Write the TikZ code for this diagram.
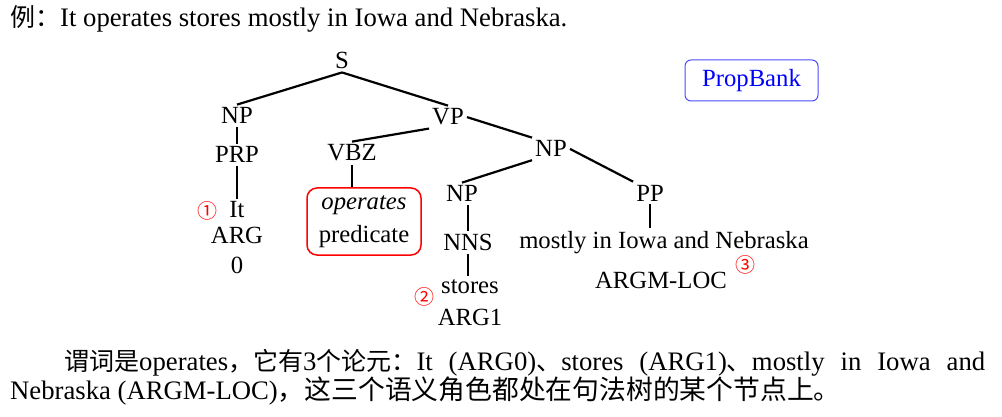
\documentclass[tikz,border=0pt]{standalone}
\usepackage{fontspec}
\setmainfont{Liberation Serif}
\newfontfamily\cjk{Noto Sans CJK SC}
\begin{document}
\begin{tikzpicture}[x=1pt,y=-1pt,
  lbl/.style={font=\fontsize{24.7}{28}\selectfont, inner sep=3pt, anchor=base},
  plain/.style={font=\fontsize{24.7}{28}\selectfont, inner sep=0pt, anchor=base},
  big/.style={font=\fontsize{26.7}{30}\selectfont, inner sep=0pt, anchor=base west},
  edge/.style={line width=2.2pt},
  circ/.style={text=red, font=\cjk\fontsize{20}{20}\selectfont, inner sep=0pt}]
\useasboundingbox (0,0) rectangle (1002,417);
% title
\node[big] (title) at (10,27) {{\cjk\fontsize{25}{30}\selectfont 例：}It operates stores mostly in Iowa and Nebraska.};
% tree
\node[lbl] (S) at (342,69) {S};
\node[lbl] (NPa) at (237,124) {NP};
\node[lbl] (PRP) at (237,163) {PRP};
\node[lbl] (It) at (237,218) {It};
\node[plain] (ARG) at (237,243) {ARG};
\node[plain] (zero) at (237,273) {0};
\node[circ] (c1) at (207,211) {①};
\node[lbl] (VP) at (448,125) {VP};
\node[lbl] (VBZ) at (352,161) {VBZ};
\node[draw=red, rounded corners=10pt, line width=1.5pt, minimum width=114pt, minimum height=67pt,
      align=center, inner sep=0pt, font=\fontsize{24.7}{33}\selectfont] (box) at (364,221.5) {\textit{operates}\\predicate};
\node[lbl] (NPb) at (551,157) {NP};
\node[lbl] (NPc) at (462,202) {NP};
\node[lbl] (NNS) at (468,251) {NNS};
\node[lbl] (stores) at (470,293) {stores};
\node[plain] (ARG1) at (470,325) {ARG1};
\node[circ] (c2) at (424,297) {②};
\node[lbl] (PP) at (650,201) {PP};
\node[lbl] (mostly) at (664,248) {mostly in Iowa and Nebraska};
\node[plain] (loc) at (661,288) {ARGM-LOC};
\node[circ] (c3) at (745,265) {③};
\node[draw=blue!70, rounded corners=6pt, text=blue, minimum width=133pt, minimum height=41pt,
      line width=1pt, inner sep=0pt, font=\fontsize{24.7}{28}\selectfont] (pb) at (751.5,80.5) {PropBank};
% edges
\draw[edge] (S.south) -- (NPa.north);
\draw[edge] (S.south) -- (VP.north);
\draw[edge] (NPa) -- (PRP);
\draw[edge] (PRP) -- (It);
\draw[edge] (VP.south west) -- (VBZ.north);
\draw[edge] (VP.east) -- (NPb.north west);
\draw[edge] (VBZ.south) -- (VBZ.south |- box.north);
\draw[edge] (NPb.south west) -- (NPc.north);
\draw[edge] (NPb.east) -- (PP.north west);
\draw[edge] (NPc.south -| NNS) -- (NNS);
\draw[edge] (NNS.south) -- (NNS.south |- stores.north);
\draw[edge] (PP.south) -- (PP.south |- mostly.north);
% bottom text
\node[big] (l1) at (64,370) {\makebox[921pt][s]{{\cjk\fontsize{25}{30}\selectfont 谓词是}operates{\cjk\fontsize{25}{30}\selectfont ，它有}3{\cjk\fontsize{25}{30}\selectfont 个论元：}It (ARG0){\cjk\fontsize{25}{30}\selectfont 、}stores (ARG1){\cjk\fontsize{25}{30}\selectfont 、}mostly in Iowa and}};
\node[big] (l2) at (10,399) {Nebraska (ARGM-LOC){\cjk\fontsize{26.8}{30}\selectfont ，这三个语义角色都处在句法树的某个节点上。}};
\end{tikzpicture}
\end{document}
